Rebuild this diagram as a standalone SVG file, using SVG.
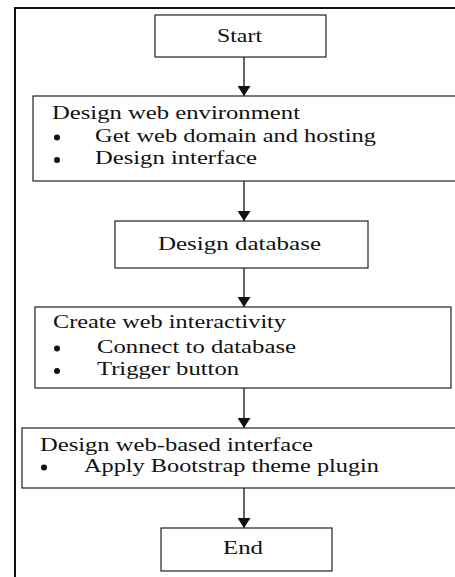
<svg xmlns="http://www.w3.org/2000/svg" width="455" height="577" viewBox="0 0 455 577">
<style>
.box{fill:#fff;stroke:#222;stroke-width:1.2}
.frame{fill:none;stroke:#111;stroke-width:2}
text{font-family:"Liberation Serif","Times New Roman",serif;font-size:18px;fill:#111}
.line{stroke:#111;stroke-width:1.3;fill:none}
.dot{fill:#111}
</style>
<defs>
<marker id="ah" markerWidth="10" markerHeight="13" refX="10" refY="6.5" orient="auto" markerUnits="userSpaceOnUse">
<path d="M0,0 L10,6.5 L0,13 Z" fill="#111"/>
</marker>
</defs>
<rect width="455" height="577" fill="#fff"/>
<rect class="frame" x="15" y="8" width="460" height="590"/>
<g id="connectors">
<line class="line" x1="244" y1="57" x2="244" y2="96" marker-end="url(#ah)"/>
<line class="line" x1="244" y1="181" x2="244" y2="221" marker-end="url(#ah)"/>
<line class="line" x1="244" y1="268" x2="244" y2="307" marker-end="url(#ah)"/>
<line class="line" x1="244" y1="388" x2="244" y2="428" marker-end="url(#ah)"/>
<line class="line" x1="244" y1="488" x2="244" y2="528" marker-end="url(#ah)"/>
</g>
<g id="start">
<rect class="box" x="155" y="15" width="171" height="42"/>
<text x="217" y="42" textLength="45" lengthAdjust="spacingAndGlyphs">Start</text>
</g>
<g id="design-web-environment">
<rect class="box" x="33" y="96" width="440" height="85"/>
<text x="52" y="119" textLength="248" lengthAdjust="spacingAndGlyphs">Design web environment</text>
<circle class="dot" cx="57" cy="137.5" r="3"/>
<text x="95" y="142" textLength="281" lengthAdjust="spacingAndGlyphs">Get web domain and hosting</text>
<circle class="dot" cx="57" cy="160" r="3"/>
<text x="95" y="164" textLength="162" lengthAdjust="spacingAndGlyphs">Design interface</text>
</g>
<g id="design-database">
<rect class="box" x="115" y="221" width="253" height="47"/>
<text x="158" y="250" textLength="163" lengthAdjust="spacingAndGlyphs">Design database</text>
</g>
<g id="create-web-interactivity">
<rect class="box" x="35" y="307" width="416" height="81"/>
<text x="53" y="328" textLength="233" lengthAdjust="spacingAndGlyphs">Create web interactivity</text>
<circle class="dot" cx="57" cy="348.5" r="3"/>
<text x="97" y="353" textLength="199" lengthAdjust="spacingAndGlyphs">Connect to database</text>
<circle class="dot" cx="57" cy="371" r="3"/>
<text x="97" y="375" textLength="142" lengthAdjust="spacingAndGlyphs">Trigger button</text>
</g>
<g id="design-web-based-interface">
<rect class="box" x="22" y="428" width="450" height="60"/>
<text x="40" y="451" textLength="273" lengthAdjust="spacingAndGlyphs">Design web-based interface</text>
<circle class="dot" cx="44" cy="467.5" r="3"/>
<text x="84" y="472" textLength="295" lengthAdjust="spacingAndGlyphs">Apply Bootstrap theme plugin</text>
</g>
<g id="end">
<rect class="box" x="161" y="528" width="171" height="43"/>
<text x="223" y="554" textLength="40" lengthAdjust="spacingAndGlyphs">End</text>
</g>
</svg>
